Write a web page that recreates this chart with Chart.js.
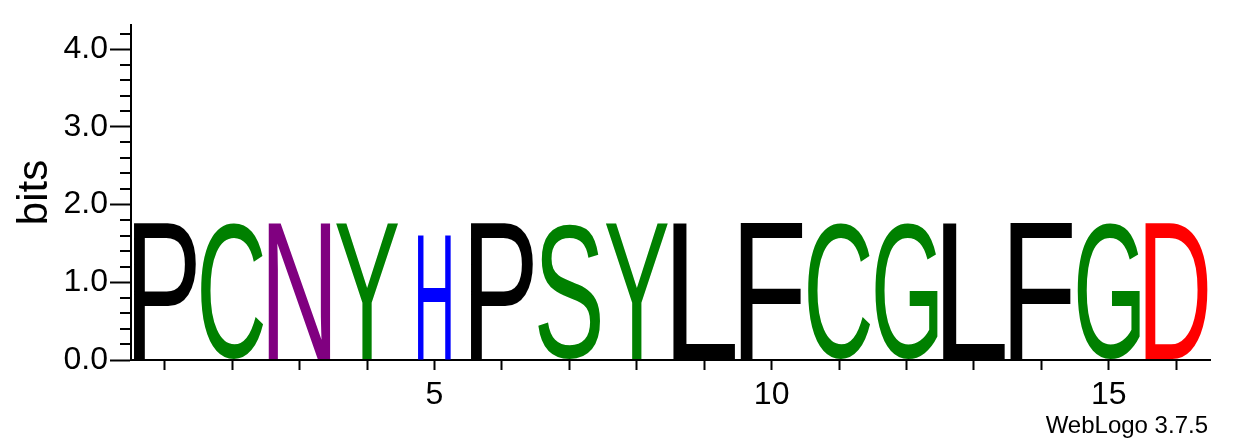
<!DOCTYPE html>
<html>
<head>
<meta charset="utf-8">
<script src="https://cdn.jsdelivr.net/npm/chart.js@4.4.1/dist/chart.umd.min.js"></script>
<style>body{margin:0;background:#fff}</style>
</head>
<body>
<canvas id="logo" width="1233" height="444"></canvas>
<script>
const positions = [1, 2, 3, 4, 5, 6, 7, 8, 9, 10, 11, 12, 13, 14, 15, 16];
const letters = ['P', 'C', 'N', 'Y', 'H', 'P', 'S', 'Y', 'L', 'F', 'C', 'G', 'L', 'F', 'G', 'D'];
const bits = [1.77, 1.77, 1.77, 1.77, 1.62, 1.77, 1.77, 1.77, 1.77, 1.77, 1.77, 1.77, 1.77, 1.77, 1.77, 1.77];
const letterWidths = [0.92, 0.92, 0.92, 0.92, 0.49, 0.92, 0.92, 0.92, 0.92, 0.92, 0.92, 0.92, 0.92, 0.92, 0.92, 0.92];
const letterColors = ['#000000', '#008000', '#800080', '#008000', '#0000ff', '#000000', '#008000', '#008000',
  '#000000', '#000000', '#008000', '#008000', '#000000', '#000000', '#008000', '#ff0000'];
const xTickLabels = [5, 10, 15];
const yTickLabels = ['0.0', '1.0', '2.0', '3.0', '4.0'];
const footer = 'WebLogo 3.7.5';

const FONT = '"Liberation Sans", Arial, sans-serif';
Chart.defaults.font.family = FONT;
Chart.defaults.color = '#000';

// stretch each letter's ink box over its bar
const glyphPlugin = {
  id: 'glyphs',
  afterDatasetsDraw(chart) {
    const ctx = chart.ctx;
    const xs = chart.scales.x;
    const unit = xs.getPixelForValue(1) - xs.getPixelForValue(0);
    chart.getDatasetMeta(0).data.forEach((bar, i) => {
      const w = letterWidths[i] * unit;
      const top = bar.y;
      const h = (bar.base - 1) - top;
      ctx.save();
      ctx.font = '200px ' + FONT;
      ctx.textAlign = 'left';
      ctx.textBaseline = 'alphabetic';
      const m = ctx.measureText(letters[i]);
      const inkW = m.actualBoundingBoxLeft + m.actualBoundingBoxRight;
      const inkH = m.actualBoundingBoxAscent + m.actualBoundingBoxDescent;
      ctx.translate(bar.x - w / 2, top);
      ctx.scale(w / inkW, h / inkH);
      ctx.fillStyle = letterColors[i];
      ctx.fillText(letters[i], m.actualBoundingBoxLeft, m.actualBoundingBoxAscent);
      ctx.restore();
    });
  },
  afterDraw(chart) {
    const ctx = chart.ctx;
    const ys = chart.scales.y;
    ctx.save();
    // short minor ticks on the bits axis
    ctx.strokeStyle = '#000';
    ctx.lineWidth = 2;
    ys.ticks.forEach(t => {
      if (Math.round(t.value * 5) % 5 !== 0) {
        const py = Math.round(ys.getPixelForValue(t.value));
        ctx.beginPath();
        ctx.moveTo(ys.right - 11, py);
        ctx.lineTo(ys.right, py);
        ctx.stroke();
      }
    });
    ctx.fillStyle = '#000';
    ctx.font = '24px ' + FONT;
    ctx.textAlign = 'right';
    ctx.textBaseline = 'alphabetic';
    ctx.fillText(footer, 1208, 433);
    ctx.restore();
  }
};

new Chart(document.getElementById('logo'), {
  type: 'bar',
  data: {
    datasets: [{
      data: positions.map((p, i) => ({ x: p, y: bits[i] })),
      backgroundColor: 'rgba(0,0,0,0)',
      borderWidth: 0
    }]
  },
  options: {
    responsive: false,
    devicePixelRatio: 1,
    animation: false,
    layout: { padding: { top: 25, right: 23, left: 0, bottom: 0 } },
    plugins: { legend: { display: false }, tooltip: { enabled: false } },
    scales: {
      x: {
        type: 'linear',
        min: 0.5,
        max: 16.5,
        offset: false,
        afterBuildTicks: s => { s.ticks = positions.map(p => ({ value: p })); },
        afterFit: s => { s.height = 84; },
        ticks: {
          autoSkip: false,
          maxRotation: 0,
          padding: 6,
          font: { size: 32 },
          callback: v => xTickLabels.includes(v) ? String(v) : ''
        },
        grid: { drawOnChartArea: false, offset: false, tickLength: 10, tickWidth: 2, tickColor: '#000' },
        border: { color: '#000', width: 2 }
      },
      y: {
        min: 0,
        max: 4.31,
        afterBuildTicks: s => {
          const t = [];
          for (let k = 0; k <= 21; k++) t.push({ value: k * 0.2 });
          s.ticks = t;
        },
        afterFit: s => { s.width = 131; },
        ticks: {
          autoSkip: false,
          padding: 2,
          font: { size: 32 },
          callback: v => {
            const k = Math.round(v * 5);
            return k % 5 === 0 ? yTickLabels[k / 5] : '';
          }
        },
        grid: {
          drawOnChartArea: false,
          tickLength: 21,
          tickWidth: 2,
          tickColor: c => (Math.round(c.tick.value * 5) % 5 === 0 ? '#000' : 'rgba(0,0,0,0)')
        },
        border: { color: '#000', width: 2 },
        title: { display: true, text: 'bits', font: { size: 42 }, padding: { top: 10, bottom: 0 } }
      }
    }
  },
  plugins: [glyphPlugin]
});
</script>
</body>
</html>
